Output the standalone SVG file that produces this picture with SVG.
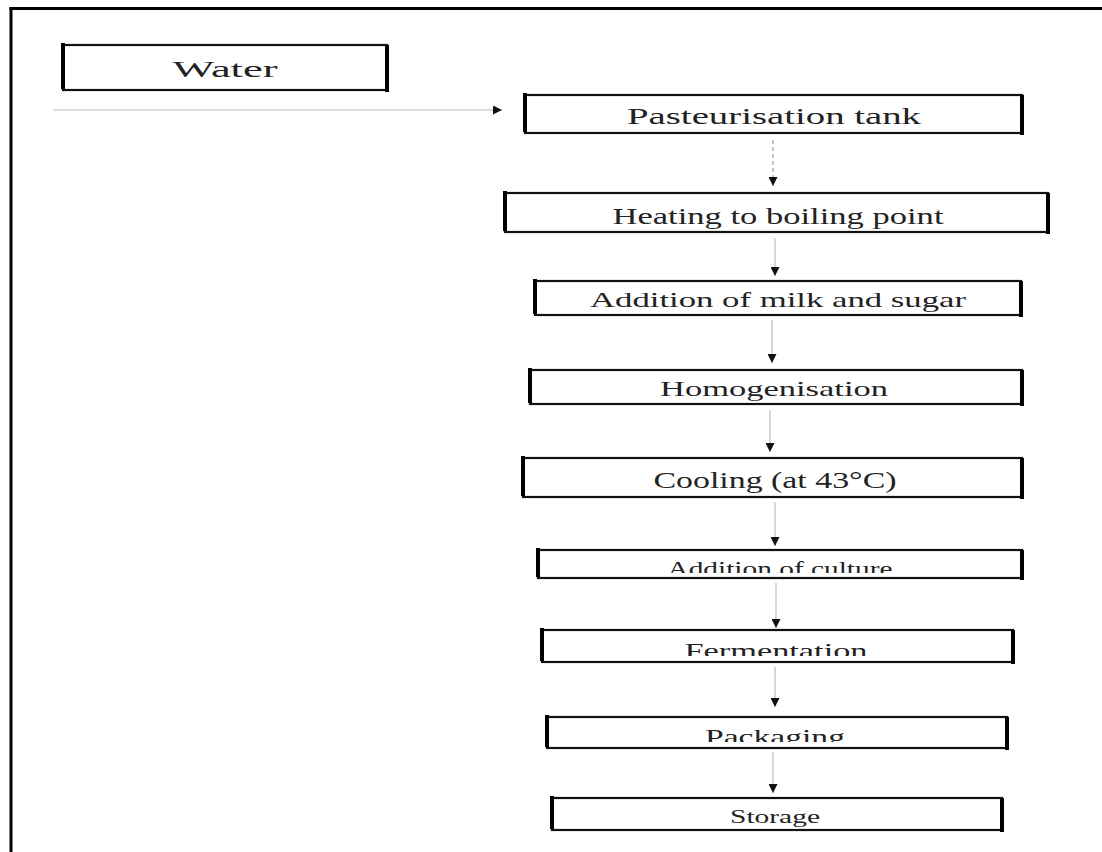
<svg xmlns="http://www.w3.org/2000/svg" width="1102" height="852" viewBox="0 0 1102 852">
<style>
.box{fill:#fff;stroke:#111;stroke-width:2.2}
.side{stroke:#000;stroke-width:4}
.lbl{font-family:"Liberation Serif","Times New Roman",serif;fill:#222;text-anchor:middle}
.conn{stroke:#bcbcbc;stroke-width:1.2;fill:none}
.dash{stroke-dasharray:4 3;stroke:#999}
</style>
<defs>
<marker id="ah" viewBox="0 0 10 10" refX="10" refY="5" markerWidth="10" markerHeight="9" markerUnits="userSpaceOnUse" orient="auto">
<path d="M0,0 L10,5 L0,10 Z" fill="#111"/>
</marker>
<clipPath id="c-culture"><rect x="538" y="550" width="484" height="23"/></clipPath>
<clipPath id="c-ferm"><rect x="542" y="630" width="471" height="26"/></clipPath>
<clipPath id="c-pack"><rect x="547" y="717" width="460" height="25"/></clipPath>
</defs>
<rect x="0" y="0" width="1102" height="852" fill="#fff"/>
<g id="frame">
<line x1="9.5" y1="8.5" x2="1102" y2="8.5" stroke="#000" stroke-width="3"/>
<line x1="11" y1="7" x2="11" y2="852" stroke="#000" stroke-width="3"/>
</g>
<g id="connectors">
<line class="conn" x1="53" y1="110" x2="502" y2="110" marker-end="url(#ah)"/>
<line class="conn dash" x1="773" y1="140" x2="773" y2="186" marker-end="url(#ah)"/>
<line class="conn" x1="775" y1="238" x2="775" y2="276" marker-end="url(#ah)"/>
<line class="conn" x1="772" y1="320" x2="772" y2="363" marker-end="url(#ah)"/>
<line class="conn" x1="770" y1="410" x2="770" y2="452" marker-end="url(#ah)"/>
<line class="conn" x1="775" y1="502" x2="775" y2="546" marker-end="url(#ah)"/>
<line class="conn" x1="776" y1="583" x2="776" y2="628" marker-end="url(#ah)"/>
<line class="conn" x1="775" y1="667" x2="775" y2="707" marker-end="url(#ah)"/>
<line class="conn" x1="773" y1="752" x2="773" y2="793" marker-end="url(#ah)"/>
</g>
<g id="water">
<rect class="box" x="63" y="45" width="324" height="45"/>
<line class="side" x1="63" y1="43" x2="63" y2="89"/>
<line class="side" x1="387" y1="45" x2="387" y2="92"/>
<text class="lbl" x="225" y="77" font-size="24" textLength="105" lengthAdjust="spacingAndGlyphs">Water</text>
</g>
<g id="pasteurisation">
<rect class="box" x="525" y="95" width="497" height="38"/>
<line class="side" x1="525" y1="93" x2="525" y2="132"/>
<line class="side" x1="1022" y1="95" x2="1022" y2="135"/>
<text class="lbl" x="774" y="124" font-size="23" textLength="294" lengthAdjust="spacingAndGlyphs">Pasteurisation tank</text>
</g>
<g id="heating">
<rect class="box" x="505" y="193" width="543" height="39"/>
<line class="side" x1="505" y1="191" x2="505" y2="231"/>
<line class="side" x1="1048" y1="193" x2="1048" y2="234"/>
<text class="lbl" x="778" y="224" font-size="23" textLength="331" lengthAdjust="spacingAndGlyphs">Heating to boiling point</text>
</g>
<g id="milk">
<rect class="box" x="535" y="281" width="486" height="34"/>
<line class="side" x1="535" y1="279" x2="535" y2="314"/>
<line class="side" x1="1021" y1="281" x2="1021" y2="317"/>
<text class="lbl" x="778" y="307" font-size="22" textLength="376" lengthAdjust="spacingAndGlyphs">Addition of milk and sugar</text>
</g>
<g id="homogenisation">
<rect class="box" x="530" y="370" width="492" height="34"/>
<line class="side" x1="530" y1="368" x2="530" y2="403"/>
<line class="side" x1="1022" y1="370" x2="1022" y2="406"/>
<text class="lbl" x="774" y="396" font-size="22" textLength="228" lengthAdjust="spacingAndGlyphs">Homogenisation</text>
</g>
<g id="cooling">
<rect class="box" x="523" y="458" width="499" height="39"/>
<line class="side" x1="523" y1="456" x2="523" y2="496"/>
<line class="side" x1="1022" y1="458" x2="1022" y2="499"/>
<text class="lbl" x="775" y="488" font-size="23" textLength="243" lengthAdjust="spacingAndGlyphs">Cooling (at 43°C)</text>
</g>
<g id="culture">
<rect class="box" x="538" y="550" width="484" height="28"/>
<line class="side" x1="538" y1="548" x2="538" y2="577"/>
<line class="side" x1="1022" y1="550" x2="1022" y2="580"/>
<text class="lbl" x="780" y="576" font-size="22" textLength="225" lengthAdjust="spacingAndGlyphs" clip-path="url(#c-culture)">Addition of culture</text>
</g>
<g id="fermentation">
<rect class="box" x="542" y="630" width="471" height="32"/>
<line class="side" x1="542" y1="628" x2="542" y2="661"/>
<line class="side" x1="1013" y1="630" x2="1013" y2="664"/>
<text class="lbl" x="776" y="658" font-size="22" textLength="183" lengthAdjust="spacingAndGlyphs" clip-path="url(#c-ferm)">Fermentation</text>
</g>
<g id="packaging">
<rect class="box" x="547" y="717" width="460" height="31"/>
<line class="side" x1="547" y1="715" x2="547" y2="747"/>
<line class="side" x1="1007" y1="717" x2="1007" y2="750"/>
<text class="lbl" x="775" y="744" font-size="22" textLength="140" lengthAdjust="spacingAndGlyphs" clip-path="url(#c-pack)">Packaging</text>
</g>
<g id="storage">
<rect class="box" x="552" y="798" width="450" height="32"/>
<line class="side" x1="552" y1="796" x2="552" y2="829"/>
<line class="side" x1="1002" y1="798" x2="1002" y2="832"/>
<text class="lbl" x="775" y="823" font-size="19" textLength="90" lengthAdjust="spacingAndGlyphs">Storage</text>
</g>
</svg>
